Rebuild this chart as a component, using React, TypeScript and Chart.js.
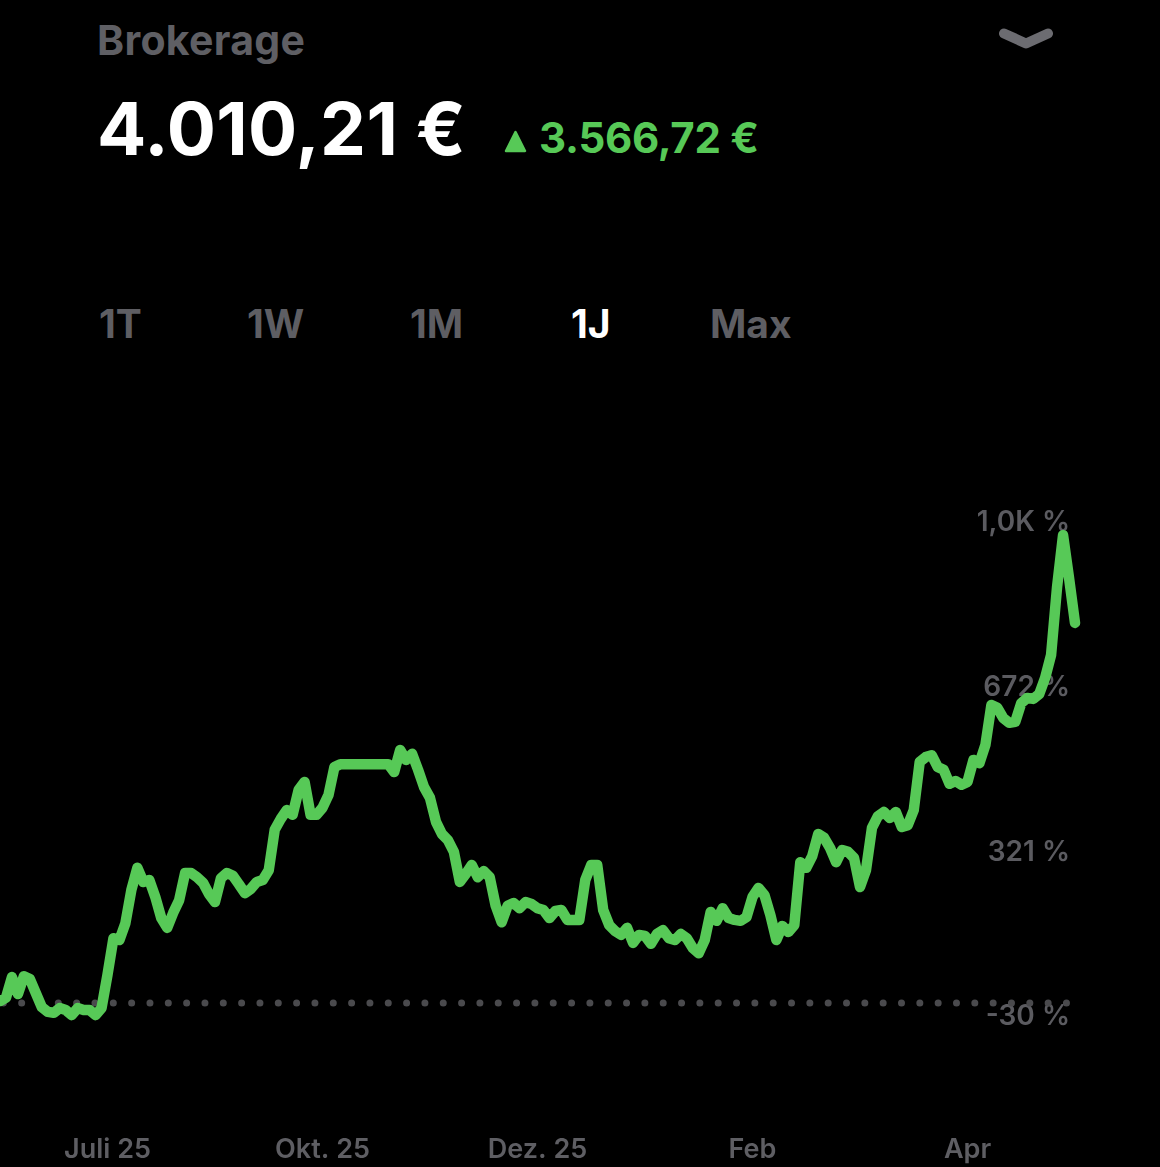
import React, { useEffect, useRef } from "react";
import { Chart, registerables } from "chart.js";

Chart.register(...registerables);

// Performance in % (one value per sample)
const performance: number[] = [
  4, 11, 55, 19, 57, 51, 21, -9, -19, -21,
  -11, -15, -26, -11, -15, -15, -26, -11, 60, 138,
  134, 170, 241, 288, 258, 262, 226, 181, 160, 192,
  219, 277, 277, 268, 256, 232, 215, 266, 277, 271,
  253, 234, 243, 258, 262, 283, 369, 392, 411, 401,
  454, 471, 401, 401, 416, 443, 503, 509, 509, 509,
  509, 509, 509, 509, 509, 509, 492, 539, 518, 531,
  497, 460, 437, 386, 360, 347, 322, 258, 275, 294,
  268, 281, 268, 207, 172, 207, 213, 202, 215, 211,
  202, 198, 181, 196, 198, 177, 177, 177, 262, 294,
  294, 198, 166, 153, 145, 160, 128, 145, 143, 126,
  147, 155, 138, 134, 147, 138, 117, 106, 134, 194,
  175, 202, 181, 177, 175, 183, 226, 245, 230, 187,
  134, 164, 151, 166, 300, 288, 313, 360, 352, 330,
  300, 326, 322, 309, 247, 283, 373, 398, 407, 394,
  407, 375, 379, 411, 514, 524, 528, 503, 497, 467,
  473, 465, 471, 518, 511, 550, 635, 629, 607, 597,
  599, 639, 650, 648, 658, 693, 742, 887, 997, 906,
  810,
];
const categories: string[] = performance.map((_, i) => String(i));

const xTickIndices = [18, 54, 90, 126, 162];
const xTickLabels = ["Juli 25", "Okt. 25", "Dez. 25", "Feb", "Apr"];

const yTickValues = [-30, 321, 672, 1023];
const yTickLabels = ["-30 %", "321 %", "672 %", "1,0K %"];
const yMin = -276.4;
const yMax = 1023;
const baselineValue = 0;

const tabs = ["1T", "1W", "1M", "1J", "Max"];
const tabLefts = [99, 247, 410, 571, 710];
const activeTab = "1J";

const GREEN = "#57C957";
const GRAY = "#5e5e63";
const FONT = "Inter, 'Noto Sans', sans-serif";

function textStyle(left: number, baseline: number, size: number, color: string, weight = 700, spacing = 0): React.CSSProperties {
  return {
    position: "absolute",
    left,
    top: baseline - 0.8636 * size,
    fontSize: size,
    lineHeight: `${size}px`,
    fontWeight: weight,
    color,
    fontFamily: FONT,
    whiteSpace: "nowrap",
    letterSpacing: spacing,
    margin: 0,
  };
}

const zeroPadding = (scale: any) => {
  scale.paddingTop = 0;
  scale.paddingBottom = 0;
  scale.paddingLeft = 0;
  scale.paddingRight = 0;
};

export default function App() {
  const canvasRef = useRef<HTMLCanvasElement>(null);

  useEffect(() => {
    const canvas = canvasRef.current;
    if (!canvas) return;
    const chart = new Chart(canvas, {
      type: "line",
      data: {
        labels: categories,
        datasets: [
          {
            data: performance,
            borderColor: GREEN,
            borderWidth: 10.5,
            pointRadius: 0,
            borderJoinStyle: "round",
            borderCapStyle: "round",
            tension: 0,
            clip: false,
            order: 0,
          },
          {
            data: categories.map(() => baselineValue),
            borderColor: "#4a4a4d",
            borderWidth: 7,
            borderDash: [0, 18.33],
            borderDashOffset: 15,
            borderCapStyle: "round",
            pointRadius: 0,
            order: 1,
          },
        ],
      },
      options: {
        animation: false,
        responsive: false,
        maintainAspectRatio: false,
        events: [],
        layout: { padding: { top: 523, right: 85, bottom: 0, left: 0 } },
        plugins: { legend: { display: false }, tooltip: { enabled: false } },
        scales: {
          x: {
            type: "category",
            grid: { display: false, drawTicks: false, tickLength: 0 },
            border: { display: false },
            afterBuildTicks: (scale: any) => {
              scale.ticks = xTickIndices.map((v) => ({ value: v }));
            },
            afterFit: zeroPadding,
            ticks: {
              autoSkip: false,
              maxRotation: 0,
              minRotation: 0,
              padding: 1,
              color: GRAY,
              font: { family: FONT, size: 27, weight: "600" },
              callback: (value: any) => {
                const k = xTickIndices.indexOf(Number(value));
                return k >= 0 ? xTickLabels[k] : "";
              },
            },
          },
          y: {
            position: "right",
            min: yMin,
            max: yMax,
            z: 1,
            grid: { display: false, drawTicks: false, tickLength: 0 },
            border: { display: false },
            afterBuildTicks: (scale: any) => {
              scale.ticks = yTickValues.map((v) => ({ value: v }));
            },
            afterFit: zeroPadding,
            ticks: {
              mirror: true,
              padding: -5,
              color: "#5b5b60",
              font: { family: FONT, size: 28, weight: "600" },
              textStrokeColor: "#000",
              textStrokeWidth: 6,
              callback: (value: any) => {
                const k = yTickValues.indexOf(Number(value));
                return k >= 0 ? yTickLabels[k] : "";
              },
            },
          },
        },
      },
    } as any);
    return () => chart.destroy();
  }, []);

  return (
    <div
      style={{
        position: "absolute",
        left: 0,
        top: 0,
        width: 1160,
        height: 1167,
        background: "#000",
        overflow: "hidden",
      }}
    >
      <div style={textStyle(97, 55, 41, "#5f5f64", 700, 0.3)}>Brokerage</div>
      <svg style={{ position: "absolute", left: 0, top: 0 }} width={1160} height={80}>
        <polyline
          points="1004,33.5 1026,43.5 1048,33.5"
          fill="none"
          stroke="#6c6c71"
          strokeWidth={10}
          strokeLinecap="round"
          strokeLinejoin="round"
        />
      </svg>
      <div style={textStyle(97, 155, 73, "#ffffff", 700, 0.3)}>4.010,21 €</div>
      <svg style={{ position: "absolute", left: 503, top: 129 }} width={25} height={25}>
        <polygon
          points="12.5,3 22,22 3,22"
          fill={GREEN}
          stroke={GREEN}
          strokeWidth={2.5}
          strokeLinejoin="round"
        />
      </svg>
      <div style={textStyle(539, 153, 42, GREEN, 700, -0.3)}>3.566,72 €</div>
      {tabs.map((t, i) => (
        <div key={t} style={textStyle(tabLefts[i], 338, 39, t === activeTab ? "#ffffff" : GRAY)}>
          {t}
        </div>
      ))}
      <canvas
        ref={canvasRef}
        width={1160}
        height={1167}
        style={{ position: "absolute", left: 0, top: 0, width: 1160, height: 1167 }}
      />
    </div>
  );
}
